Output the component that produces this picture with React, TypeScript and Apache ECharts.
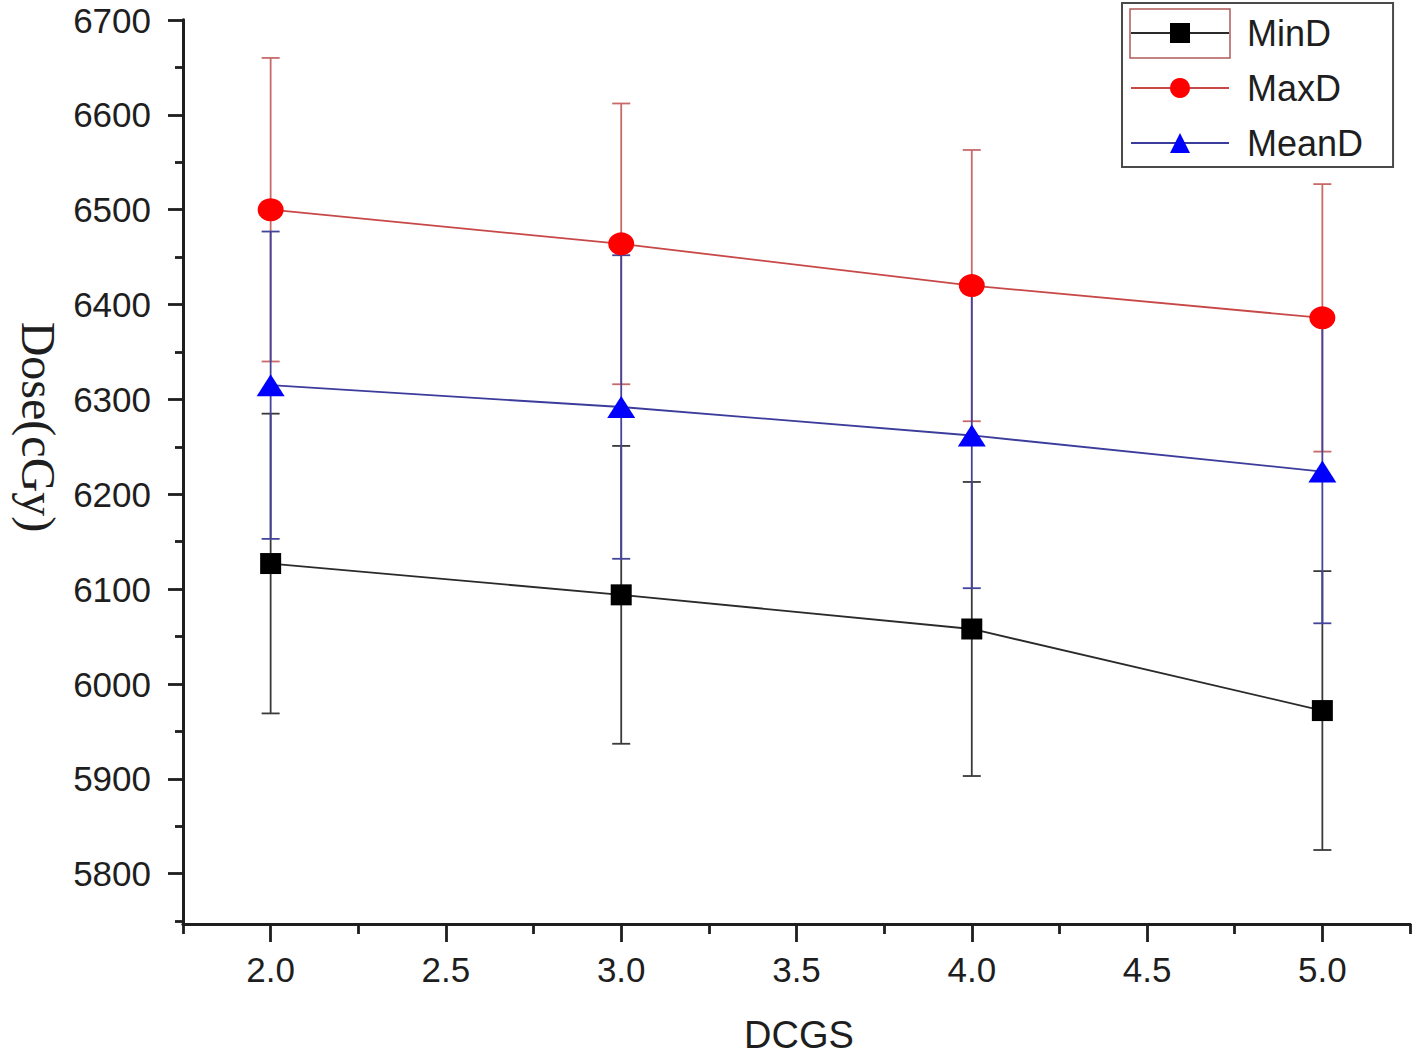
import React, { useEffect, useRef } from 'react';
import * as echarts from 'echarts';

// ---- data ----
const xValues = [2.0, 3.0, 4.0, 5.0];
const minD = [6127, 6094, 6058, 5972];
const minDErr = [158, 157, 155, 147];
const maxD = [6500, 6464, 6420, 6386];
const maxDErr = [160, 148, 143, 141];
const meanD = [6315, 6292, 6262, 6224];
const meanDErr = [162, 160, 161, 160];

const seriesNames = ['MinD', 'MaxD', 'MeanD'];
const yMajorTicks = [5800, 5900, 6000, 6100, 6200, 6300, 6400, 6500, 6600, 6700];
const yMinorTicks = [5750, 5850, 5950, 6050, 6150, 6250, 6350, 6450, 6550, 6650];
const xMajorTicks = [2.0, 2.5, 3.0, 3.5, 4.0, 4.5, 5.0];
const xMinorTicks = [1.75, 2.25, 2.75, 3.25, 3.75, 4.25, 4.75, 5.25];

const xTitle = 'DCGS';
const yTitle = 'Dose(cGy)';

const SANS = '"Liberation Sans", Arial, Helvetica, sans-serif';
const SERIF = '"Liberation Serif", "Times New Roman", serif';
const AXIS_COLOR = '#1e1e1e';

const X_MIN = 1.75;
const X_MAX = 5.25;
const Y_MIN = 5747;
const Y_MAX = 6700;

function errorSeries(name: string, values: number[], errs: number[], color: string, z: number) {
  return {
    type: 'custom',
    name,
    z,
    silent: true,
    encode: { x: 0, y: [1, 2] },
    data: xValues.map((x, i) => [x, values[i] - errs[i], values[i] + errs[i]]),
    renderItem: (params: any, api: any) => {
      const x = api.value(0);
      const lo = api.coord([x, api.value(1)]);
      const hi = api.coord([x, api.value(2)]);
      const half = 9;
      const style = { stroke: color, lineWidth: 1.8, fill: null };
      return {
        type: 'group',
        children: [
          { type: 'line', shape: { x1: lo[0], y1: lo[1], x2: hi[0], y2: hi[1] }, style },
          { type: 'line', shape: { x1: lo[0] - half, y1: lo[1], x2: lo[0] + half, y2: lo[1] }, style },
          { type: 'line', shape: { x1: hi[0] - half, y1: hi[1], x2: hi[0] + half, y2: hi[1] }, style },
        ],
      };
    },
  };
}

export default function App() {
  const ref = useRef<HTMLDivElement>(null);

  useEffect(() => {
    if (!ref.current) return;
    const chart = echarts.init(ref.current, null, { renderer: 'svg' });

    const option: any = {
      animation: false,
      backgroundColor: '#ffffff',
      grid: { left: 183, right: 8, top: 20, bottom: 135, containLabel: false },
      xAxis: [
        {
          type: 'value',
          min: X_MIN,
          max: X_MAX,
          position: 'bottom',
          axisLine: { show: true, lineStyle: { color: AXIS_COLOR, width: 2.8 } },
          axisTick: { show: true, customValues: xMajorTicks, length: 18, lineStyle: { color: AXIS_COLOR, width: 2.8 } },
          axisLabel: {
            show: true,
            customValues: xMajorTicks,
            formatter: (v: number) => v.toFixed(1),
            fontSize: 35,
            fontFamily: SANS,
            color: AXIS_COLOR,
            margin: 28,
          },
          splitLine: { show: false },
        },
        {
          type: 'value',
          min: X_MIN,
          max: X_MAX,
          position: 'bottom',
          axisLine: { show: true, lineStyle: { color: AXIS_COLOR, width: 2.8 } },
          axisTick: { show: true, customValues: xMinorTicks, length: 10, lineStyle: { color: AXIS_COLOR, width: 2.8 } },
          axisLabel: { show: false },
          splitLine: { show: false },
        },
      ],
      yAxis: [
        {
          type: 'value',
          min: Y_MIN,
          max: Y_MAX,
          position: 'left',
          axisLine: { show: true, lineStyle: { color: AXIS_COLOR, width: 2.8 } },
          axisTick: { show: true, customValues: yMajorTicks, length: 15, lineStyle: { color: AXIS_COLOR, width: 2.8 } },
          axisLabel: {
            show: true,
            customValues: yMajorTicks,
            formatter: (v: number) => String(v),
            fontSize: 35,
            lineHeight: 34,
            fontFamily: SANS,
            color: AXIS_COLOR,
            margin: 32,
          },
          splitLine: { show: false },
        },
        {
          type: 'value',
          min: Y_MIN,
          max: Y_MAX,
          position: 'left',
          axisLine: { show: true, lineStyle: { color: AXIS_COLOR, width: 2.8 } },
          axisTick: { show: true, customValues: yMinorTicks, length: 8, lineStyle: { color: AXIS_COLOR, width: 2.8 } },
          axisLabel: { show: false },
          splitLine: { show: false },
        },
      ],
      legend: {
        show: true,
        data: seriesNames,
        orient: 'vertical',
        left: 1122,
        top: 3,
        padding: [10, 30, 4, 8],
        itemGap: 15,
        itemWidth: 98,
        itemHeight: 25,
        borderColor: '#4a4a4a',
        borderWidth: 2,
        backgroundColor: '#ffffff',
        textStyle: {
          fontSize: 36,
          fontFamily: SANS,
          color: AXIS_COLOR,
          lineHeight: 40,
          padding: [0, 0, 0, 13],
        },
        selectedMode: false,
      },
      graphic: [
        {
          type: 'rect',
          z: 100,
          shape: { x: 1130, y: 9, width: 100, height: 49 },
          style: { stroke: '#b05a5a', lineWidth: 1.5, fill: 'none' },
        },
        {
          type: 'text',
          x: 799,
          y: 1035,
          style: {
            text: xTitle,
            font: `38px ${SANS}`,
            fill: AXIS_COLOR,
            textAlign: 'center',
            textVerticalAlign: 'middle',
          },
        },
        {
          type: 'text',
          x: 38,
          y: 427,
          rotation: -Math.PI / 2,
          style: {
            text: yTitle,
            font: `48px ${SERIF}`,
            fill: AXIS_COLOR,
            textAlign: 'center',
            textVerticalAlign: 'middle',
          },
        },
      ],
      series: [
        errorSeries('MaxD-err', maxD, maxDErr, '#c86a6a', 1),
        errorSeries('MinD-err', minD, minDErr, '#3a3a3a', 2),
        errorSeries('MeanD-err', meanD, meanDErr, '#44449a', 3),
        {
          type: 'line',
          name: 'MinD',
          z: 10,
          data: xValues.map((x, i) => [x, minD[i]]),
          symbol: 'rect',
          symbolSize: 21,
          itemStyle: { color: '#000000' },
          lineStyle: { color: '#2a2a2a', width: 1.8 },
        },
        {
          type: 'line',
          name: 'MaxD',
          z: 11,
          data: xValues.map((x, i) => [x, maxD[i]]),
          symbol: 'circle',
          symbolSize: [26, 23],
          itemStyle: { color: '#ff0000' },
          lineStyle: { color: '#c84848', width: 1.8 },
        },
        {
          type: 'line',
          name: 'MeanD',
          z: 12,
          data: xValues.map((x, i) => [x, meanD[i]]),
          symbol: 'triangle',
          symbolSize: [28, 22],
          itemStyle: { color: '#0000ff' },
          lineStyle: { color: '#3c3c9c', width: 1.8 },
        },
      ],
    };

    chart.setOption(option);
    return () => chart.dispose();
  }, []);

  return (
    <div
      ref={ref}
      style={{ position: 'absolute', left: 0, top: 0, width: 1418, height: 1059, background: '#fff' }}
    />
  );
}
